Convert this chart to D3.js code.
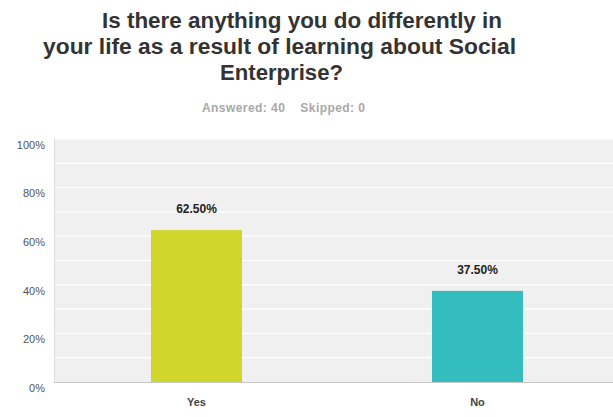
<!DOCTYPE html>
<html>
<head>
<meta charset="utf-8">
<script src="https://cdn.jsdelivr.net/npm/d3@7"></script>
<style>
  html, body { margin: 0; padding: 0; background: #fff; }
  svg { display: block; font-family: "Liberation Sans", Arial, sans-serif; }
</style>
</head>
<body>
<svg id="chart" width="613" height="417"></svg>
<script>
// Survey responses
const categories = ["Yes", "No"];
const values = [62.5, 37.5];
const colors = ["#cfd52a", "#33bdbe"];
const yTicks = [0, 20, 40, 60, 80, 100];
const titleLines = [
  "Is there anything you do differently in",
  "your life as a result of learning about Social",
  "Enterprise?"
];
const subtitle = "Answered: 40    Skipped: 0";

const svg = d3.select("#chart");
const plot = { left: 54, right: 613, top: 139, bottom: 382 };

const x = d3.scaleBand().domain(categories).range([56, 618]).padding(0);
const y = d3.scaleLinear().domain([0, 100]).range([plot.bottom, plot.top]);
const barW = x.bandwidth() * 0.324;

// Title, each line laid out between its own left and right edges
const titleSpan = [[102, 502], [43, 516], [220, 343]];
const title = svg.append("g").attr("font-weight", "bold").attr("fill", "#333")
  .attr("font-size", 22);
titleLines.forEach((t, i) => {
  title.append("text").attr("x", titleSpan[i][0]).attr("y", 28 + i * 26)
    .attr("textLength", titleSpan[i][1] - titleSpan[i][0])
    .attr("lengthAdjust", "spacingAndGlyphs").text(t);
});

svg.append("text").attr("x", 202).attr("y", 112)
  .attr("textLength", 163).attr("lengthAdjust", "spacing")
  .attr("font-size", 12).attr("font-weight", "bold").attr("fill", "#a8a8a8")
  .attr("xml:space", "preserve").style("white-space", "pre").text(subtitle);

// Plot background
svg.append("rect").attr("x", plot.left).attr("y", plot.top)
  .attr("width", plot.right - plot.left).attr("height", plot.bottom - plot.top)
  .attr("fill", "#f0f0f0");

// Gridlines every 10%
svg.append("g").selectAll("line").data(d3.range(10, 101, 10)).join("line")
  .attr("x1", plot.left).attr("x2", plot.right)
  .attr("y1", d => y(d)).attr("y2", d => y(d))
  .attr("stroke", "#ffffff").attr("stroke-width", 1.2);

// Left border and baseline
svg.append("line").attr("x1", plot.left + 0.5).attr("x2", plot.left + 0.5)
  .attr("y1", plot.top).attr("y2", plot.bottom).attr("stroke", "#dcdcdc");
svg.append("line").attr("x1", plot.left).attr("x2", plot.right)
  .attr("y1", plot.bottom + 0.5).attr("y2", plot.bottom + 0.5).attr("stroke", "#c8c8c8");

// Y axis labels
const yAxis = d3.axisLeft(y).tickValues(yTicks).tickSize(0).tickPadding(9)
  .tickFormat(d => d + "%");
const yg = svg.append("g").attr("transform", `translate(${plot.left},0)`).call(yAxis);
yg.select(".domain").remove();
yg.selectAll("text").attr("font-size", 11).attr("fill", "#555")
  .attr("font-family", "'Liberation Sans', Arial, sans-serif").attr("dy", "0.85em");

// Bars
svg.append("g").selectAll("rect").data(categories).join("rect")
  .attr("x", d => x(d) + (x.bandwidth() - barW) / 2)
  .attr("width", barW)
  .attr("y", (d, i) => y(values[i]))
  .attr("height", (d, i) => y(0) - y(values[i]))
  .attr("fill", (d, i) => colors[i]);

// Value labels
svg.append("g").selectAll("text").data(categories).join("text")
  .attr("x", d => x(d) + x.bandwidth() / 2)
  .attr("y", (d, i) => y(values[i]) - 17)
  .attr("text-anchor", "middle").attr("font-size", 12).attr("font-weight", "bold")
  .attr("fill", "#222").text((d, i) => values[i].toFixed(2) + "%");

// X axis labels
const xAxis = d3.axisBottom(x).tickSize(0).tickPadding(16);
const xg = svg.append("g").attr("transform", `translate(0,${plot.bottom})`).call(xAxis);
xg.select(".domain").remove();
xg.selectAll("text").attr("font-size", 11).attr("font-weight", "bold").attr("fill", "#444")
  .attr("font-family", "'Liberation Sans', Arial, sans-serif");
</script>
</body>
</html>
